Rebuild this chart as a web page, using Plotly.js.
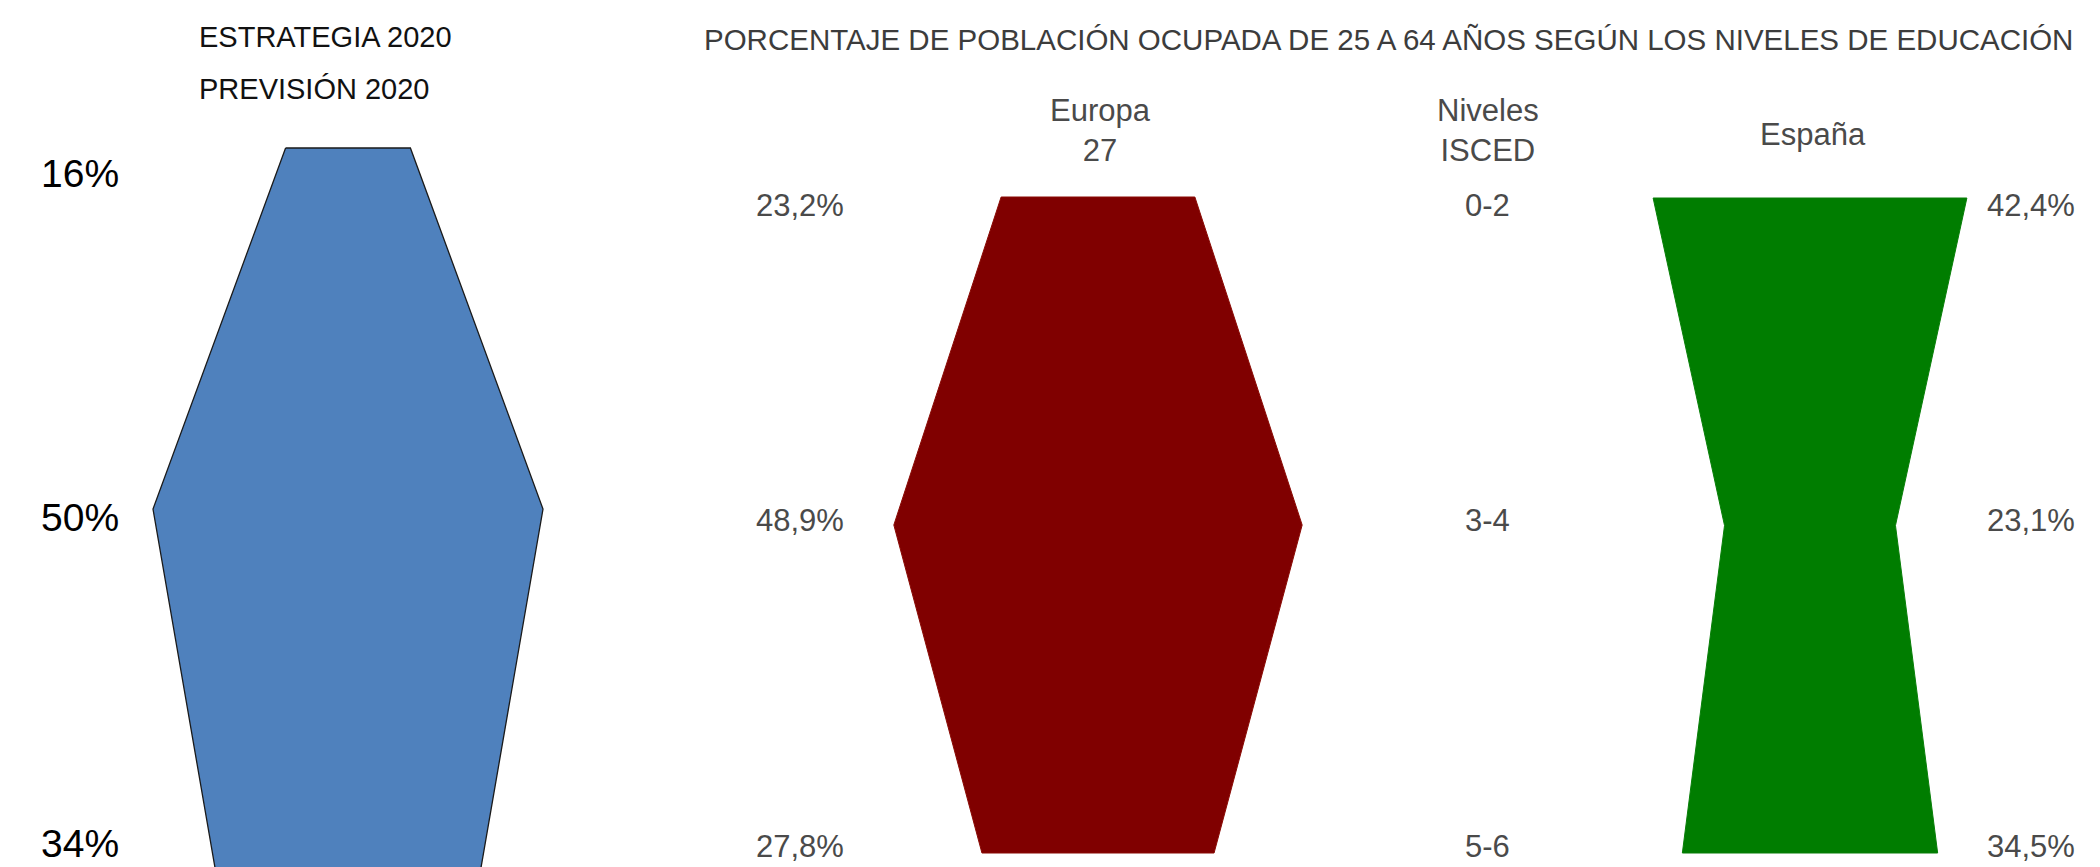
<!DOCTYPE html>
<html>
<head>
<meta charset="utf-8">
<script src="https://cdn.plot.ly/plotly-3.0.1.min.js"></script>
<style>html,body{margin:0;padding:0;background:#fff;}#chart{width:2100px;height:867px;}</style>
</head>
<body>
<div id="chart"></div>
<script>
// ---- data ----
const levels = ['0-2', '3-4', '5-6'];
const targetValues = [16, 50, 34];
const targetLabels = ['16%', '50%', '34%'];
const europeValues = [23.2, 48.9, 27.8];
const europeLabels = ['23,2%', '48,9%', '27,8%'];
const spainValues = [42.4, 23.1, 34.5];
const spainLabels = ['42,4%', '23,1%', '34,5%'];
const leftHeader = ['ESTRATEGIA 2020', 'PREVISIÓN 2020'];
const mainTitle = 'PORCENTAJE DE POBLACIÓN OCUPADA DE 25 A 64 AÑOS SEGÚN LOS NIVELES DE EDUCACIÓN';
const europeHeader = 'Europa<br>27';
const levelsHeader = 'Niveles<br>ISCED';
const spainHeader = 'España';

// ---- geometry helpers ----
const W = 2100, H = 867;
function xAxisFor(leftPx, rightPx, centerPx, pxPerUnit) {
  return {domain: [leftPx / W, rightPx / W],
          range: [(leftPx - centerPx) / pxPerUnit, (rightPx - centerPx) / pxPerUnit],
          visible: false, fixedrange: true};
}
function yAxisFor(topPx, bottomPx) {
  const u = (bottomPx - topPx) / 2;
  return {domain: [0, 1], range: [-(H - topPx) / u, topPx / u], visible: false, fixedrange: true};
}
function hexagon(vals) {
  const x = [], y = [];
  vals.forEach((v, i) => { x.push(-v / 2); y.push(-i); });
  for (let i = vals.length - 1; i >= 0; i--) { x.push(vals[i] / 2); y.push(-i); }
  x.push(x[0]); y.push(y[0]);
  return {x, y};
}
const px = v => v / W, py = v => 1 - v / H;

const tBlue = hexagon(targetValues), tRed = hexagon(europeValues), tGreen = hexagon(spainValues);
const traces = [
  {type: 'scatter', mode: 'lines', x: tBlue.x, y: tBlue.y, xaxis: 'x', yaxis: 'y', fill: 'toself',
   fillcolor: '#4F81BD', line: {color: '#1a1a1a', width: 1.3}, hoverinfo: 'skip'},
  {type: 'scatter', mode: 'lines', x: tRed.x, y: tRed.y, xaxis: 'x2', yaxis: 'y2', fill: 'toself',
   fillcolor: '#800000', line: {color: '#8a0a04', width: 1}, hoverinfo: 'skip'},
  {type: 'scatter', mode: 'lines', x: tGreen.x, y: tGreen.y, xaxis: 'x3', yaxis: 'y3', fill: 'toself',
   fillcolor: '#007D00', line: {color: '#087f08', width: 1}, hoverinfo: 'skip'}
];

const ann = [];
const blackFont = {family: 'Liberation Sans, Arial, sans-serif', size: 39, color: '#000'};
const hdrFont = {family: 'Liberation Sans, Arial, sans-serif', size: 29, color: '#111'};
const grayFont = {family: 'Liberation Sans, Arial, sans-serif', size: 31, color: '#4a4a4a'};
function A(text, x, y, xanchor, font) {
  ann.push({text, x: px(x), y: py(y), xref: 'paper', yref: 'paper', xanchor, yanchor: 'middle',
            showarrow: false, font, align: 'center'});
}
A(leftHeader[0], 197, 37, 'left', hdrFont);
A(leftHeader[1], 197, 89, 'left', hdrFont);
const blueLabelY = [174, 517, 843];
targetLabels.forEach((t, i) => A(t, 80, blueLabelY[i], 'center', blackFont));

A(mainTitle, 1388, 39, 'center', {family: 'Liberation Sans, Arial, sans-serif', size: 29.5, color: '#3c3c3c'});
A(europeHeader, 1100, 131, 'center', grayFont);
A(levelsHeader, 1488, 131, 'center', grayFont);
A(spainHeader, 1813, 134, 'center', grayFont);
const rowY = [206, 520, 846];
europeLabels.forEach((t, i) => A(t, 846, rowY[i], 'right', grayFont));
levels.forEach((t, i) => A(t, 1487, rowY[i], 'center', grayFont));
spainLabels.forEach((t, i) => A(t, 1985, rowY[i], 'left', grayFont));

const layout = {
  width: W, height: H, margin: {l: 0, r: 0, t: 0, b: 0, pad: 0},
  paper_bgcolor: '#fff', plot_bgcolor: 'rgba(0,0,0,0)', showlegend: false,
  xaxis: xAxisFor(0, 700, 348, 7.8),
  yaxis: yAxisFor(148, 870),
  xaxis2: Object.assign(xAxisFor(860, 1340, 1098, 8.35), {anchor: 'y2'}),
  yaxis2: Object.assign(yAxisFor(197, 853), {anchor: 'x2'}),
  xaxis3: Object.assign(xAxisFor(1580, 2070, 1810, 7.4), {anchor: 'y3'}),
  yaxis3: Object.assign(yAxisFor(198, 853), {anchor: 'x3'}),
  annotations: ann
};
Plotly.newPlot('chart', traces, layout, {staticPlot: true, displayModeBar: false});
</script>
</body>
</html>
